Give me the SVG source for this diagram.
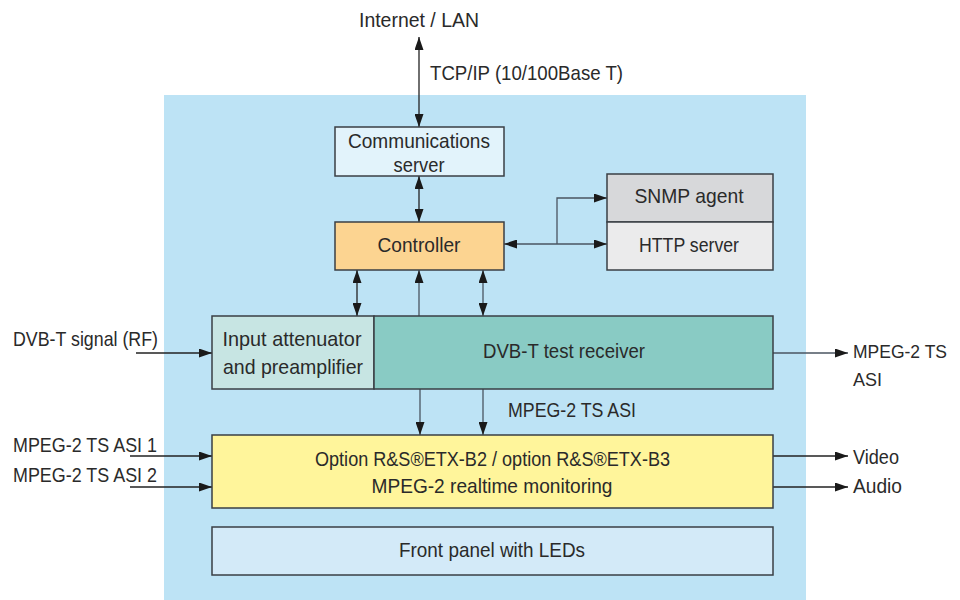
<svg xmlns="http://www.w3.org/2000/svg" width="960" height="600" viewBox="0 0 960 600">
<defs>
<marker id="ah" viewBox="0 0 13 9" refX="13" refY="4.5" markerWidth="13" markerHeight="9" markerUnits="userSpaceOnUse" orient="auto-start-reverse">
<path d="M0,0 L13,4.5 L0,9 Z" fill="#1a1a1a"/>
</marker>
</defs>
<style>
text{font-family:"Liberation Sans",Arial,sans-serif;font-size:21px;fill:#2a2a2a}
.c{text-anchor:middle}
.r{font-size:18px}
.box{stroke:#3a3f44;stroke-width:1.5}
.ln{stroke:#222;stroke-width:1.3;fill:none}
.lg{stroke:#4a5560;stroke-width:1.3;fill:none}
</style>
<rect x="164" y="95" width="642" height="505" fill="#bde3f5"/>

<g id="connectors">
<path class="ln" d="M419,37 V127" marker-start="url(#ah)" marker-end="url(#ah)"/>
<path class="ln" d="M419,176 V222" marker-start="url(#ah)" marker-end="url(#ah)"/>
<path class="lg" d="M504,244 H607" marker-start="url(#ah)" marker-end="url(#ah)"/>
<path class="lg" d="M557,244 V198 H607" marker-end="url(#ah)"/>
<path class="ln" d="M357,270 V316" marker-start="url(#ah)" marker-end="url(#ah)"/>
<path class="lg" d="M419,316 V270" marker-end="url(#ah)"/>
<path class="lg" d="M483,270 V316" marker-start="url(#ah)" marker-end="url(#ah)"/>
<path class="ln" d="M136,353 H212" marker-end="url(#ah)"/>
<path class="lg" d="M773,353 H848" marker-end="url(#ah)"/>
<path class="lg" d="M420,389 V435" marker-end="url(#ah)"/>
<path class="lg" d="M483,389 V435" marker-end="url(#ah)"/>
<path class="ln" d="M130,456 H212" marker-end="url(#ah)"/>
<path class="ln" d="M130,487 H212" marker-end="url(#ah)"/>
<path class="ln" d="M773,456 H848" marker-end="url(#ah)"/>
<path class="ln" d="M773,487 H848" marker-end="url(#ah)"/>
</g>

<g id="labels">
<text x="419" y="27" class="c" textLength="120" lengthAdjust="spacingAndGlyphs">Internet / LAN</text>
<text x="430" y="80" textLength="193" lengthAdjust="spacingAndGlyphs">TCP/IP (10/100Base T)</text>
<text x="13" y="346" textLength="145" lengthAdjust="spacingAndGlyphs">DVB-T signal (RF)</text>
<text x="13" y="452" textLength="144" lengthAdjust="spacingAndGlyphs">MPEG-2 TS ASI 1</text>
<text x="13" y="482" textLength="144" lengthAdjust="spacingAndGlyphs">MPEG-2 TS ASI 2</text>
<text x="508" y="417" textLength="128" lengthAdjust="spacingAndGlyphs">MPEG-2 TS ASI</text>
<text x="853" y="358" class="r" textLength="94" lengthAdjust="spacingAndGlyphs">MPEG-2 TS</text>
<text x="853" y="386" class="r" textLength="29" lengthAdjust="spacingAndGlyphs">ASI</text>
<text x="853" y="464" textLength="46" lengthAdjust="spacingAndGlyphs">Video</text>
<text x="853" y="493" textLength="49" lengthAdjust="spacingAndGlyphs">Audio</text>
</g>

<g id="comm-server">
<rect class="box" x="335" y="127" width="169" height="49" fill="#e2f3fb"/>
<text x="419" y="148" class="c" textLength="142" lengthAdjust="spacingAndGlyphs">Communications</text>
<text x="419" y="172" class="c" textLength="51" lengthAdjust="spacingAndGlyphs">server</text>
</g>

<g id="controller">
<rect class="box" x="335" y="222" width="169" height="48" fill="#fcd491"/>
<text x="419" y="252" class="c" textLength="83" lengthAdjust="spacingAndGlyphs">Controller</text>
</g>

<g id="snmp-agent">
<rect class="box" x="607" y="174" width="166" height="48" fill="#d7d8da"/>
<text x="689" y="203" class="c" textLength="109" lengthAdjust="spacingAndGlyphs">SNMP agent</text>
</g>

<g id="http-server">
<rect class="box" x="607" y="222" width="166" height="48" fill="#ebebec"/>
<text x="689" y="252" class="c" textLength="100" lengthAdjust="spacingAndGlyphs">HTTP server</text>
</g>

<g id="input-attenuator">
<rect class="box" x="212" y="316" width="162" height="73" fill="#c7e5e3"/>
<text x="292" y="346" class="c" textLength="139" lengthAdjust="spacingAndGlyphs">Input attenuator</text>
<text x="293" y="374" class="c" textLength="140" lengthAdjust="spacingAndGlyphs">and preamplifier</text>
</g>

<g id="test-receiver">
<rect class="box" x="374" y="316" width="399" height="73" fill="#89cbc4"/>
<text x="564" y="358" class="c" textLength="162" lengthAdjust="spacingAndGlyphs">DVB-T test receiver</text>
</g>

<g id="option-box">
<rect class="box" x="212" y="435" width="561" height="73" fill="#fff59b"/>
<text x="315" y="466" textLength="355" lengthAdjust="spacingAndGlyphs">Option R&amp;S®ETX-B2 / option R&amp;S®ETX-B3</text>
<text x="492" y="493" class="c" textLength="241" lengthAdjust="spacingAndGlyphs">MPEG-2 realtime monitoring</text>
</g>

<g id="front-panel">
<rect class="box" x="212" y="527" width="561" height="48" fill="#d3eaf8"/>
<text x="492" y="557" class="c" textLength="186" lengthAdjust="spacingAndGlyphs">Front panel with LEDs</text>
</g>
</svg>
